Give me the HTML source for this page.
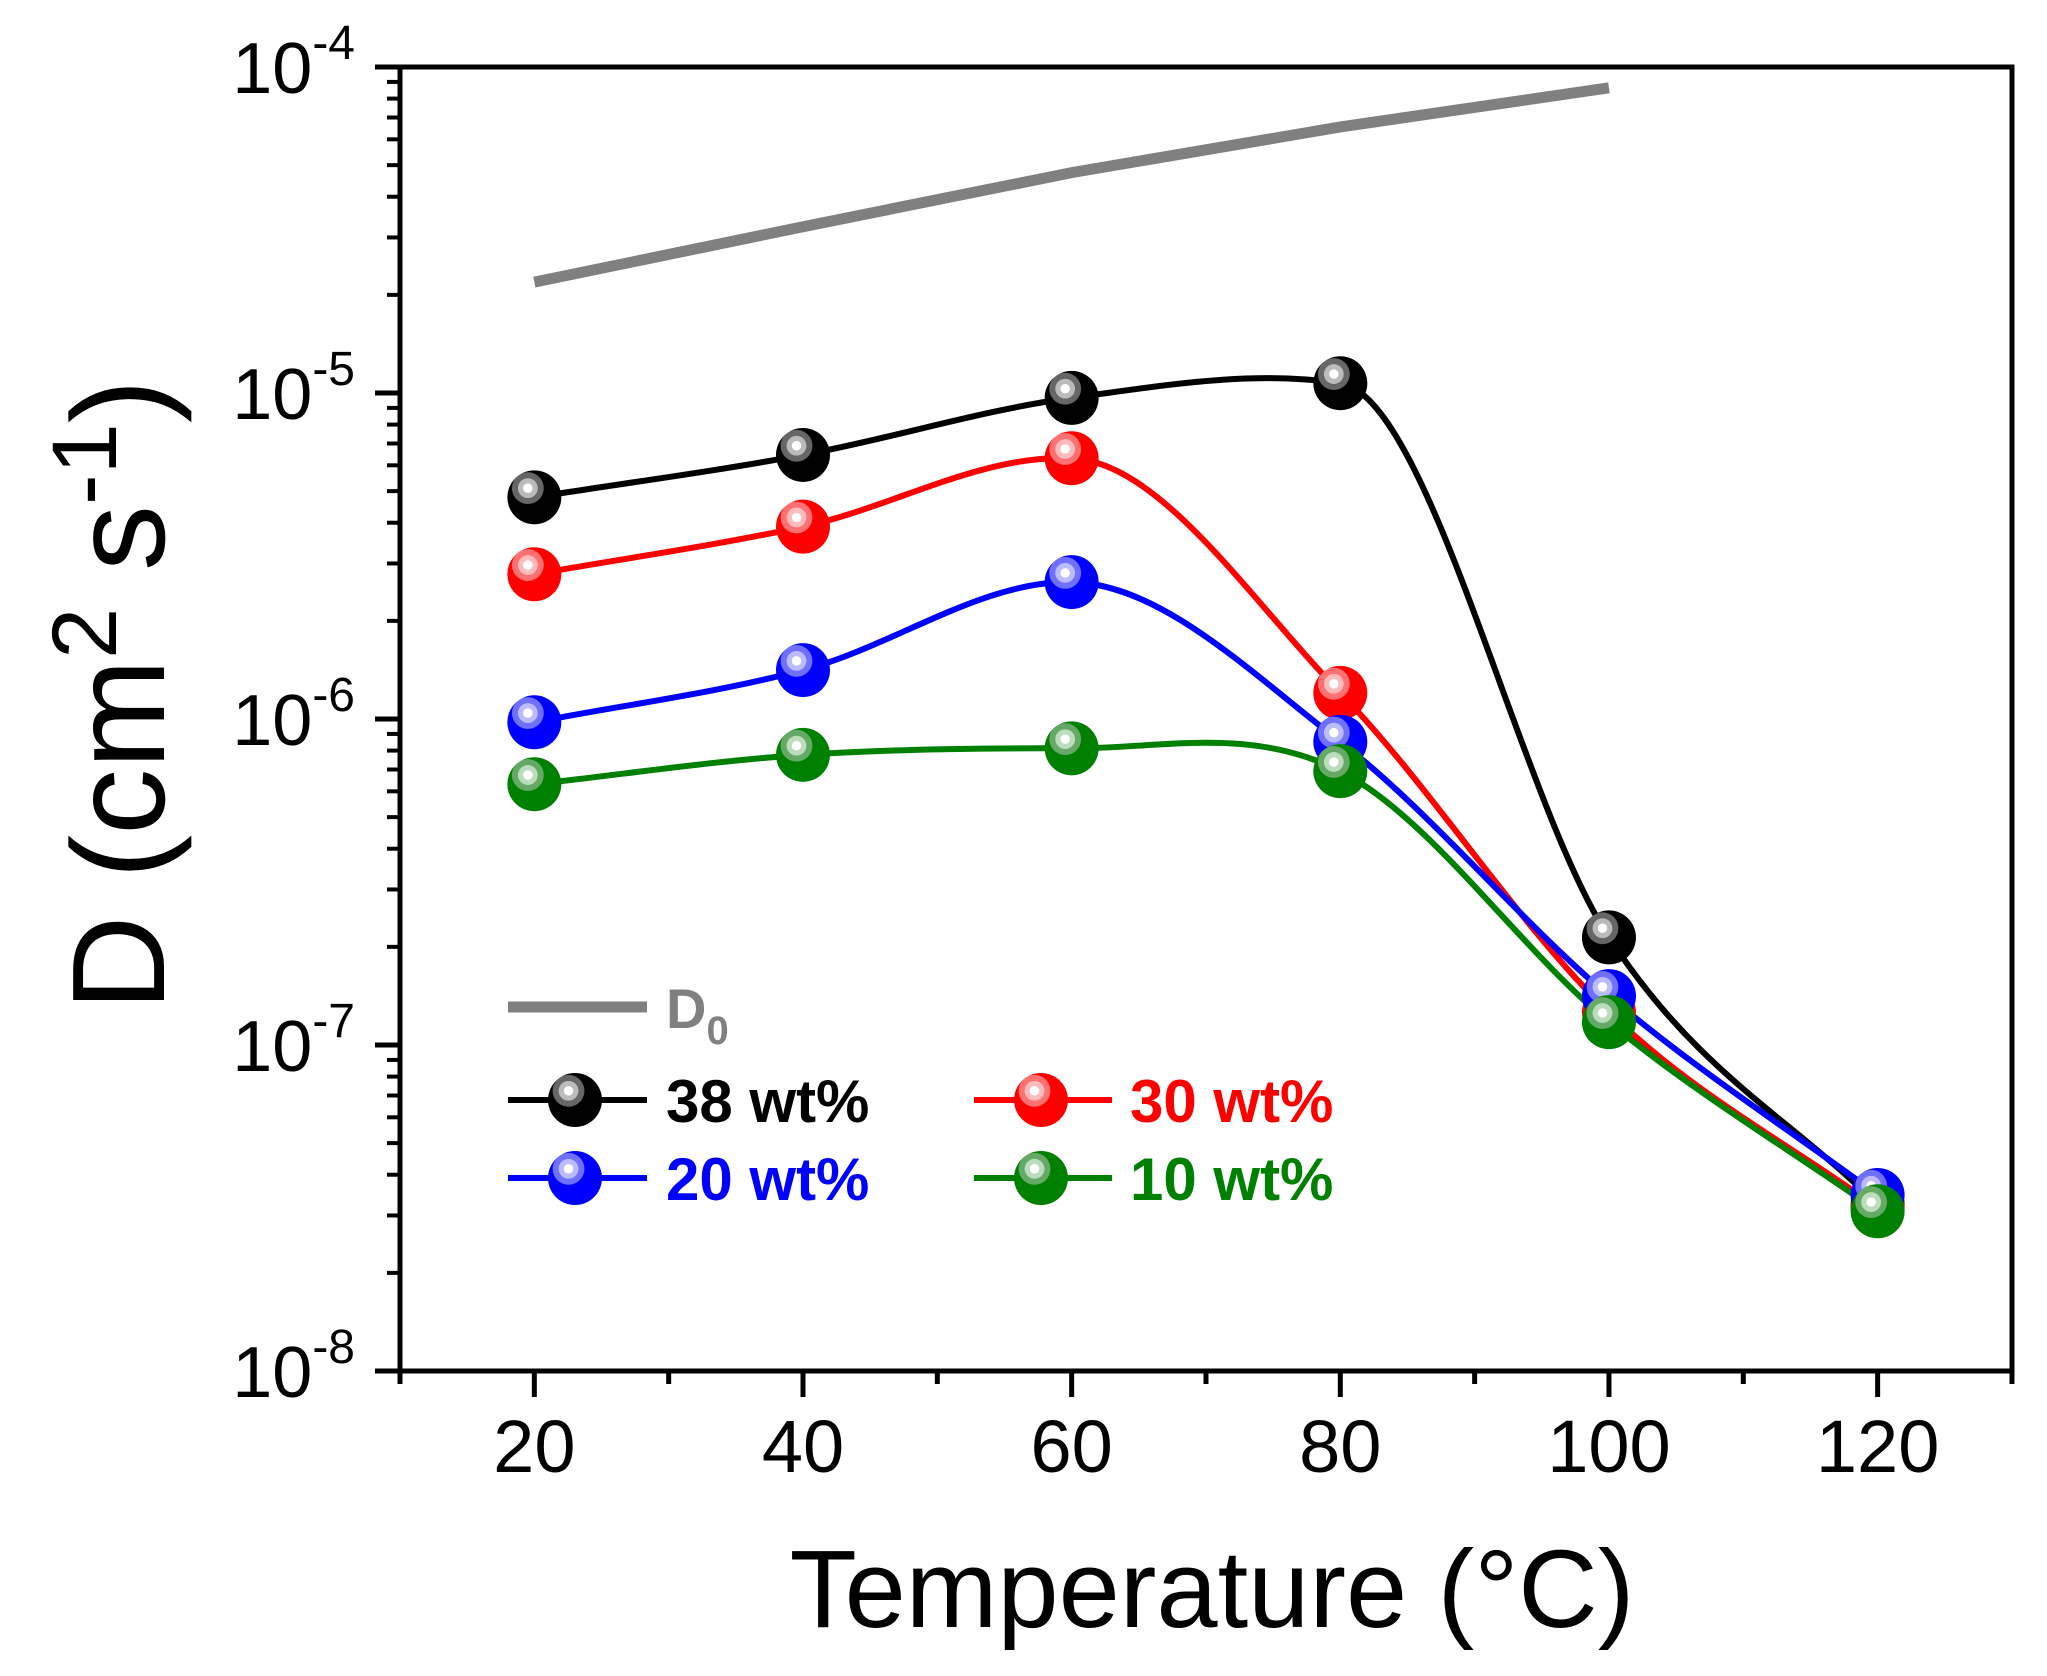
<!DOCTYPE html>
<html><head><meta charset="utf-8"><style>
html,body{margin:0;padding:0;background:#fff}
svg{display:block}
text{font-family:"Liberation Sans",Arial,sans-serif}
</style></head><body>
<svg id="s" width="2047" height="1676" viewBox="0 0 2047 1676" xmlns="http://www.w3.org/2000/svg">
<defs>
<radialGradient id="gk" cx="0.38" cy="0.33" r="0.6"><stop offset="0" stop-color="#fff"/><stop offset="0.14" stop-color="#fff"/><stop offset="0.15" stop-color="#bbb"/><stop offset="0.3" stop-color="#bbb"/><stop offset="0.31" stop-color="#666"/><stop offset="0.48" stop-color="#666"/><stop offset="0.5" stop-color="#000"/></radialGradient>
<radialGradient id="gr" cx="0.38" cy="0.33" r="0.6"><stop offset="0" stop-color="#fff"/><stop offset="0.14" stop-color="#fff"/><stop offset="0.15" stop-color="#ffbbbb"/><stop offset="0.3" stop-color="#ffbbbb"/><stop offset="0.31" stop-color="#ff7070"/><stop offset="0.48" stop-color="#ff7070"/><stop offset="0.5" stop-color="#f00"/></radialGradient>
<radialGradient id="gb" cx="0.38" cy="0.33" r="0.6"><stop offset="0" stop-color="#fff"/><stop offset="0.14" stop-color="#fff"/><stop offset="0.15" stop-color="#bbbbff"/><stop offset="0.3" stop-color="#bbbbff"/><stop offset="0.31" stop-color="#7070ff"/><stop offset="0.48" stop-color="#7070ff"/><stop offset="0.5" stop-color="#00f"/></radialGradient>
<radialGradient id="gg" cx="0.38" cy="0.33" r="0.6"><stop offset="0" stop-color="#fff"/><stop offset="0.14" stop-color="#fff"/><stop offset="0.15" stop-color="#bbddbb"/><stop offset="0.3" stop-color="#bbddbb"/><stop offset="0.31" stop-color="#66a866"/><stop offset="0.48" stop-color="#66a866"/><stop offset="0.5" stop-color="#008000"/></radialGradient>
</defs>
<g id="axes"></g>
<g id="series"></g>
<!-- legend -->
<line x1="508" y1="1007" x2="647" y2="1007" stroke="#808080" stroke-width="11"/>
<text x="666" y="1028" font-size="56" font-weight="bold" fill="#808080">D<tspan font-size="40" dy="16">0</tspan></text>
<line x1="508" y1="1100" x2="647" y2="1100" stroke="#000" stroke-width="6"/>
<circle cx="575" cy="1100" r="27" fill="url(#gk)"/>
<text x="666" y="1122" font-size="60" font-weight="bold" fill="#000">38 wt%</text>
<line x1="974" y1="1100" x2="1112" y2="1100" stroke="#f00" stroke-width="6"/>
<circle cx="1041" cy="1100" r="27" fill="url(#gr)"/>
<text x="1130" y="1122" font-size="60" font-weight="bold" fill="#f00">30 wt%</text>
<line x1="508" y1="1178" x2="647" y2="1178" stroke="#00f" stroke-width="6"/>
<circle cx="575" cy="1178" r="27" fill="url(#gb)"/>
<text x="666" y="1200" font-size="60" font-weight="bold" fill="#00f">20 wt%</text>
<line x1="974" y1="1178" x2="1112" y2="1178" stroke="#008000" stroke-width="6"/>
<circle cx="1041" cy="1178" r="27" fill="url(#gg)"/>
<text x="1130" y="1200" font-size="60" font-weight="bold" fill="#008000">10 wt%</text>
<!-- axis titles -->
<text x="1212" y="1627" font-size="110" text-anchor="middle">Temperature (°C)</text>
<text transform="translate(164,695) rotate(-90)" font-size="132" text-anchor="middle">D (cm<tspan font-size="92" dy="-48">2</tspan><tspan dy="48"> s</tspan><tspan font-size="92" dy="-48">-1</tspan><tspan dy="48">)</tspan></text>
</svg>
<script>
var NS="http://www.w3.org/2000/svg";
function px(x){return 400+(x-10)*13.433;}
function py(l){return 67+(-4-l)*326;}
function el(p,tag,a,txt){var e=document.createElementNS(NS,tag);for(var k in a)e.setAttribute(k,a[k]);if(txt!==undefined)e.textContent=txt;p.appendChild(e);return e;}
var ax=document.getElementById('axes');
el(ax,'rect',{x:400,y:67,width:1612,height:1304,fill:'none',stroke:'#000','stroke-width':5});
for(var d=-8;d<=-4;d++){
  var y=py(d);
  el(ax,'line',{x1:375,y1:y,x2:400,y2:y,stroke:'#000','stroke-width':5});
  var t=el(ax,'text',{x:355,y:y+26,'font-size':72,'text-anchor':'end'});
  var a=document.createElementNS(NS,'tspan');a.textContent='10';t.appendChild(a);
  var b=document.createElementNS(NS,'tspan');b.textContent=''+d;b.setAttribute('font-size','48');b.setAttribute('dy','-34');t.appendChild(b);
  if(d<-4){for(var m=2;m<=9;m++){var ym=py(d+Math.log10(m));el(ax,'line',{x1:387,y1:ym,x2:400,y2:ym,stroke:'#000','stroke-width':4});}}
}
for(var x=10;x<=130;x+=10){
  var X=px(x),maj=(x%20==0);
  el(ax,'line',{x1:X,y1:1371,x2:X,y2:maj?1397:1384,stroke:'#000','stroke-width':5});
  if(maj&&x>=20&&x<=120)el(ax,'text',{x:X,y:1472,'font-size':74,'text-anchor':'middle'},''+x);
}
var sg=document.getElementById('series');
var d0=[[20,-4.66],[40,-4.49],[60,-4.324],[80,-4.184],[100,-4.064]];
el(sg,'polyline',{points:d0.map(function(p){return px(p[0])+','+py(p[1]);}).join(' '),fill:'none',stroke:'#808080','stroke-width':11});
var xs=[20,40,60,80,100,120];
var S=[
 {c:'#000',g:'gk',v:[-5.32,-5.19,-5.015,-4.97,-6.67,-7.49]},
 {c:'#f00',g:'gr',v:[-5.556,-5.41,-5.2,-5.92,-6.9,-7.5]},
 {c:'#00f',g:'gb',v:[-6.01,-5.85,-5.58,-6.07,-6.85,-7.46]},
 {c:'#008000',g:'gg',v:[-6.2,-6.11,-6.09,-6.16,-6.93,-7.51]}
];
function path(P){
  var n=P.length,h=[],dl=[],m=[];
  for(var i=0;i<n-1;i++){h[i]=P[i+1][0]-P[i][0];dl[i]=(P[i+1][1]-P[i][1])/h[i];}
  m[0]=dl[0];m[n-1]=dl[n-2];
  for(var i=1;i<n-1;i++){
    if(dl[i-1]*dl[i]<=0)m[i]=0.15*(dl[i-1]+dl[i])/2;
    else m[i]=(dl[i-1]+dl[i])/2;
  }
  var s='M'+P[0][0]+','+P[0][1];
  for(var i=0;i<n-1;i++){
    var c1=[P[i][0]+h[i]/3,P[i][1]+m[i]*h[i]/3];
    var c2=[P[i+1][0]-h[i]/3,P[i+1][1]-m[i+1]*h[i]/3];
    s+=' C'+c1[0]+','+c1[1]+' '+c2[0]+','+c2[1]+' '+P[i+1][0]+','+P[i+1][1];
  }
  return s;
}
S.forEach(function(s){
  var P=xs.map(function(x,i){return [px(x),py(s.v[i])];});
  el(sg,'path',{d:path(P),fill:'none',stroke:s.c,'stroke-width':6});
});
S.forEach(function(s){
  xs.forEach(function(x,i){el(sg,'circle',{cx:px(x),cy:py(s.v[i]),r:27,fill:'url(#'+s.g+')'});});
});
</script>
</body></html>
